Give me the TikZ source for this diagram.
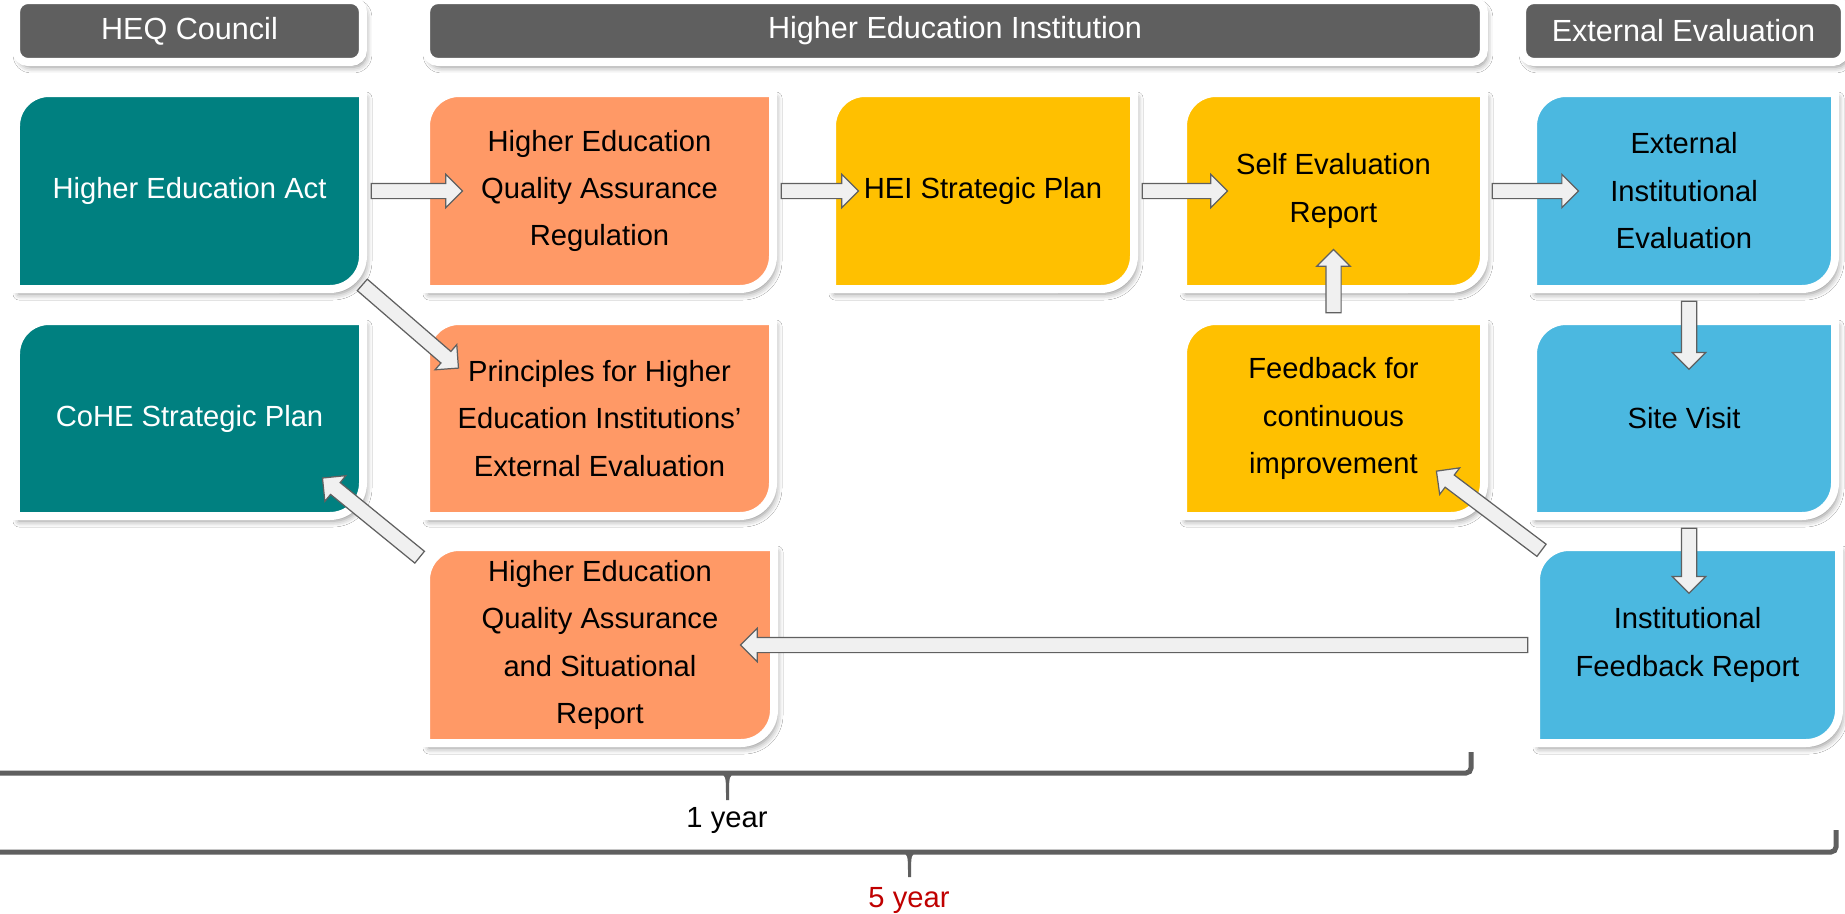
\documentclass[tikz,border=0pt]{standalone}
\usepackage{fontspec}
\setmainfont{Liberation Sans}
\usetikzlibrary{calc,shapes.arrows,shadows.blur}

\definecolor{qateal}{HTML}{008080}
\definecolor{qaorange}{HTML}{FF9966}
\definecolor{qayellow}{HTML}{FFC000}
\definecolor{qablue}{HTML}{4BB8E0}
\definecolor{qagray}{HTML}{5F5F5F}
\definecolor{qared}{HTML}{C00000}

\tikzset{
  boxframe/.style={draw=white, line width=0.16cm,
    blur shadow={shadow xshift=0.06cm, shadow yshift=-0.1cm, shadow opacity=45, shadow blur radius=0.12cm}},
  boxtext/.style={align=center, inner sep=0pt, font=\fontsize{16.6}{27}\selectfont},
  header/.style={draw=white, line width=0.16cm, fill=qagray, rounded corners=0.24cm, text=white,
    minimum height=1.24cm, inner sep=0pt, font=\fontsize{17.4}{20}\selectfont,
    blur shadow={shadow xshift=0.06cm, shadow yshift=-0.1cm, shadow opacity=45, shadow blur radius=0.12cm}},
  barrow/.style={single arrow, draw=gray!75!black, fill=white!94!black, line width=0.7pt,
    inner sep=0pt, text height=0.14cm, text depth=0.14cm, single arrow head extend=0.18cm},
  brace/.style={draw=qagray, line width=0.1cm, rounded corners=0.1cm},
  yearlabel/.style={inner sep=0pt, font=\fontsize{16.6}{20}\selectfont}
}

% #1 name, #2 left, #3 top, #4 right, #5 bottom (pixels), #6 colour, #7 text
\newcommand{\qabox}[7]{%
  \draw[boxframe, fill=#6] ({#2+4},{#5-4}) -- ({#2+4},{#3+37}) arc[start angle=180, end angle=90, radius=0.66cm]
    -- ({#4-4},{#3+4}) -- ({#4-4},{#5-37}) arc[start angle=0, end angle=-90, radius=0.66cm] -- cycle;
  \node[boxtext, minimum width={(#4-#2)*0.02cm}, minimum height={(#5-#3)*0.02cm}] (#1) at ({(#2+#4)/2},{(#3+#5)/2}) {#7};}

\newcommand{\blockarrow}[2]{%
  \path let \p1=($(#2)-(#1)$), \n1={veclen(\x1,\y1)} in
    (#1) -- (#2) node[barrow, midway, sloped, allow upside down, minimum height=\n1] {};}

\begin{document}
\begin{tikzpicture}[x=0.02cm, y=-0.02cm]
    \fill[white] (0,0) rectangle (1845,913);
    \useasboundingbox (0,0) rectangle (1845,913);

    \node[header, minimum width=6.94cm] (councilhead) at (189.5,31) {HEQ Council};
    \node[header, minimum width=21.16cm] (heihead) at (955,31) {Higher Education Institution};
    \node[header, minimum width=6.46cm] (exthead) at (1683.5,31) {External Evaluation};

    \qabox{act}{12}{89}{367}{293}{qateal}{\color{white}Higher Education Act}
    \qabox{reg}{422}{89}{777}{293}{qaorange}{Higher Education\\Quality Assurance\\Regulation}
    \qabox{heiplan}{828}{89}{1138}{293}{qayellow}{HEI Strategic Plan}
    \qabox{selfrep}{1179}{89}{1488}{293}{qayellow}{Self Evaluation\\Report}
    \qabox{extev}{1529}{89}{1839}{293}{qablue}{External\\Institutional\\Evaluation}

    \qabox{cohe}{12}{317}{367}{520}{qateal}{\color{white}CoHE Strategic Plan}
    \qabox{princ}{422}{317}{777}{520}{qaorange}{Principles for Higher\\Education Institutions'\\External Evaluation}
    \qabox{feedb}{1179}{317}{1488}{520}{qayellow}{Feedback for\\continuous\\improvement}
    \qabox{site}{1529}{317}{1839}{520}{qablue}{Site Visit}

    \qabox{situ}{422}{543}{778}{747}{qaorange}{Higher Education\\Quality Assurance\\and Situational\\Report}
    \qabox{instfb}{1532}{543}{1843}{747}{qablue}{Institutional\\Feedback Report}

    \coordinate (reg-in) at ($(reg.west)+(37,0)$);
    \coordinate (hei-in) at ($(heiplan.west)+(27,0)$);
    \coordinate (self-in) at ($(selfrep.west)+(45,0)$);
    \coordinate (ext-in) at ($(extev.west)+(46,0)$);
    \coordinate (ext-out) at ($(extev.south)+(5,4)$);
    \coordinate (site-in) at ($(ext-out)+(0,68)$);
    \coordinate (site-out) at ($(site.south)+(5,4)$);
    \coordinate (ifb-in) at ($(site-out)+(0,65)$);
    \coordinate (ifb-out) at ($(instfb.north west)+(13,10)$);
    \coordinate (feed-in) at ($(feedb.south east)+(-49,-47)$);
    \coordinate (self-up) at ($(selfrep.south)+(0,-40)$);
    \coordinate (situ-in) at ($(situ.east)+(-34,0)$);
    \coordinate (situ-out) at ($(situ.north west)+(1,17)$);
    \coordinate (cohe-in) at ($(cohe.south east)+(-42,-40)$);
    \coordinate (act-out) at ($(act.south east)+(-8,-11)$);
    \coordinate (princ-in) at ($(princ.north west)+(34,49)$);

    \blockarrow{act.east}{reg-in}
    \blockarrow{reg.east}{hei-in}
    \blockarrow{heiplan.east}{self-in}
    \blockarrow{selfrep.east}{ext-in}
    \blockarrow{ext-out}{site-in}
    \blockarrow{site-out}{ifb-in}
    \blockarrow{ifb-out}{feed-in}
    \blockarrow{feedb.north}{self-up}
    \blockarrow{instfb.west}{situ-in}
    \blockarrow{situ-out}{cohe-in}
    \blockarrow{act-out}{princ-in}

    \draw[brace] (-10,773) -- (1471,773) -- (1471,752);
    \fill[qagray] (719,773) .. controls (726,775) .. (726,800) -- (729,800) .. controls (729,775) .. (736,773) -- cycle;
    \node[yearlabel] (oneyear) at (727,820) {1 year};

    \draw[brace] (-10,852) -- (1836,852) -- (1836,830);
    \fill[qagray] (901,852) .. controls (908,854) .. (908,877) -- (911,877) .. controls (911,854) .. (918,852) -- cycle;
    \node[yearlabel, text=qared] (fiveyear) at (909,900) {5 year};
\end{tikzpicture}
\end{document}
